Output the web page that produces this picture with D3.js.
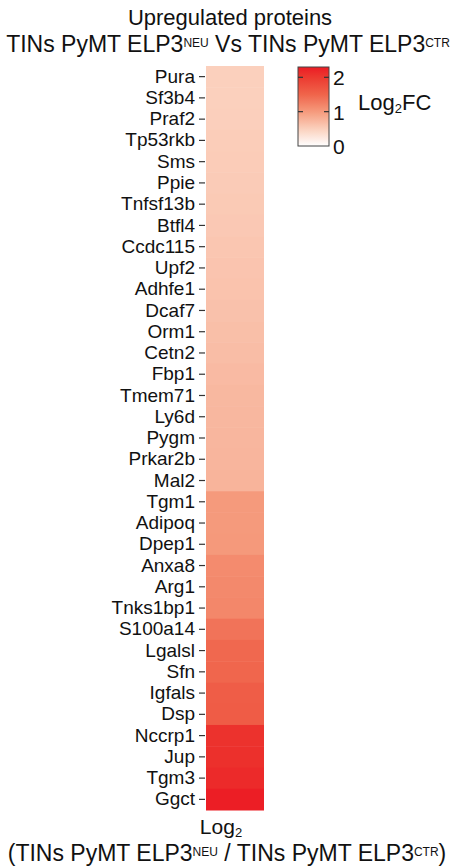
<!DOCTYPE html>
<html>
<head>
<meta charset="utf-8">
<script src="https://cdn.jsdelivr.net/npm/d3@7"></script>
<style>
  html, body { margin: 0; padding: 0; background: #fff; }
  svg { display: block; font-family: "Liberation Sans", Arial, sans-serif; }
</style>
</head>
<body>
<svg id="chart" width="456" height="867"></svg>
<script>
// Proteins, top to bottom
const proteins = ["Pura","Sf3b4","Praf2","Tp53rkb","Sms","Ppie","Tnfsf13b","Btfl4","Ccdc115",
  "Upf2","Adhfe1","Dcaf7","Orm1","Cetn2","Fbp1","Tmem71","Ly6d","Pygm","Prkar2b","Mal2",
  "Tgm1","Adipoq","Dpep1","Anxa8","Arg1","Tnks1bp1","S100a14","Lgalsl","Sfn","Igfals","Dsp",
  "Nccrp1","Jup","Tgm3","Ggct"];

// Log2 fold change per protein
const log2fc = [0.50,0.50,0.51,0.53,0.54,0.55,0.56,0.57,0.59,
  0.61,0.62,0.64,0.66,0.68,0.70,0.72,0.73,0.74,0.75,0.76,
  1.00,1.00,1.01,1.14,1.16,1.18,1.36,1.46,1.48,1.58,1.60,
  2.08,2.10,2.16,2.28];

const columns = ["Log2"];
const legendTicks = [0, 1, 2];
const legendMax = 2.3;

const svg = d3.select("#chart");

// colour ramp white -> red
const color = d3.scaleLinear()
  .domain([0, 0.5, 1.0, 1.5, 2.0, 2.3])
  .range(["#ffffff", "#fbd0bd", "#f59a7c", "#f0644b", "#ec3a30", "#ec1c24"])
  .clamp(true);

const x = d3.scaleBand().domain(columns).range([206, 264]);
const y = d3.scaleBand().domain(proteins).range([66, 810]);

// heatmap cells
svg.append("g").selectAll("rect")
  .data(proteins.map((p, i) => ({ p, v: log2fc[i] })))
  .join("rect")
  .attr("x", x("Log2"))
  .attr("y", d => y(d.p))
  .attr("width", x.bandwidth())
  .attr("height", y.bandwidth() + 0.5)
  .attr("fill", d => color(d.v));

// row labels
const yAxis = svg.append("g")
  .attr("transform", "translate(205,0)")
  .call(d3.axisLeft(y).tickSize(6).tickPadding(4));
yAxis.select(".domain").remove();
yAxis.selectAll(".tick line").attr("stroke", "#333").attr("stroke-width", 1.2);
yAxis.selectAll(".tick text")
  .attr("fill", "#111")
  .style("font-size", "19px")
  .style("font-family", "'Liberation Sans', Arial, sans-serif");

// text with super/subscript parts
function supText(sel, parts, size, supSize) {
  parts.forEach(p => {
    if (p.sup) {
      sel.append("tspan").attr("font-size", supSize).attr("baseline-shift", "45%").text(p.t);
    } else if (p.sub) {
      sel.append("tspan").attr("font-size", supSize).attr("baseline-shift", "-20%").text(p.t);
    } else {
      sel.append("tspan").attr("font-size", size).text(p.t);
    }
  });
}

// title
svg.append("text").attr("x", 230).attr("y", 25).attr("text-anchor", "middle")
  .attr("fill", "#111").attr("font-size", 22).text("Upregulated proteins");

supText(svg.append("text").attr("x", 228).attr("y", 52).attr("text-anchor", "middle").attr("fill", "#111"),
  [{t: "TINs PyMT ELP3"}, {t: "NEU", sup: true}, {t: " Vs TINs PyMT ELP3"}, {t: "CTR", sup: true}], 23, 12);

// bottom axis title
supText(svg.append("text").attr("x", 221).attr("y", 834).attr("text-anchor", "middle").attr("fill", "#111"),
  [{t: "Log"}, {t: "2", sub: true}], 21, 13);

supText(svg.append("text").attr("x", 227).attr("y", 861).attr("text-anchor", "middle").attr("fill", "#111"),
  [{t: "(TINs PyMT ELP3"}, {t: "NEU", sup: true}, {t: " / TINs PyMT ELP3"}, {t: "CTR", sup: true}, {t: ")"}], 23, 12);

// legend
const lx = 298, lw = 31;
const ly = d3.scaleLinear().domain([0, legendMax]).range([146, 67]);

const grad = svg.append("defs").append("linearGradient")
  .attr("id", "lg").attr("x1", 0).attr("y1", 1).attr("x2", 0).attr("y2", 0);
d3.range(0, 1.0001, 0.05).forEach(t => {
  grad.append("stop").attr("offset", t).attr("stop-color", color(t * legendMax));
});

svg.append("rect")
  .attr("x", lx).attr("y", ly(legendMax))
  .attr("width", lw).attr("height", ly(0) - ly(legendMax))
  .attr("fill", "url(#lg)")
  .attr("stroke", "#444").attr("stroke-width", 1);

const lt = svg.append("g");
lt.selectAll("line.l").data(legendTicks.filter(d => d > 0)).join("line")
  .attr("class", "l")
  .attr("x1", lx).attr("x2", lx + 5).attr("y1", d => ly(d)).attr("y2", d => ly(d))
  .attr("stroke", "#333").attr("stroke-width", 1.2);
lt.selectAll("line.r").data(legendTicks.filter(d => d > 0)).join("line")
  .attr("class", "r")
  .attr("x1", lx + lw - 5).attr("x2", lx + lw).attr("y1", d => ly(d)).attr("y2", d => ly(d))
  .attr("stroke", "#333").attr("stroke-width", 1.2);
lt.selectAll("text").data(legendTicks).join("text")
  .attr("x", lx + lw + 4).attr("y", d => ly(d) + 8)
  .attr("font-size", 21).attr("fill", "#111")
  .text(d => d);

supText(svg.append("text").attr("x", 358).attr("y", 110).attr("fill", "#111"),
  [{t: "Log"}, {t: "2", sub: true}, {t: "FC"}], 22, 13);
</script>
</body>
</html>
